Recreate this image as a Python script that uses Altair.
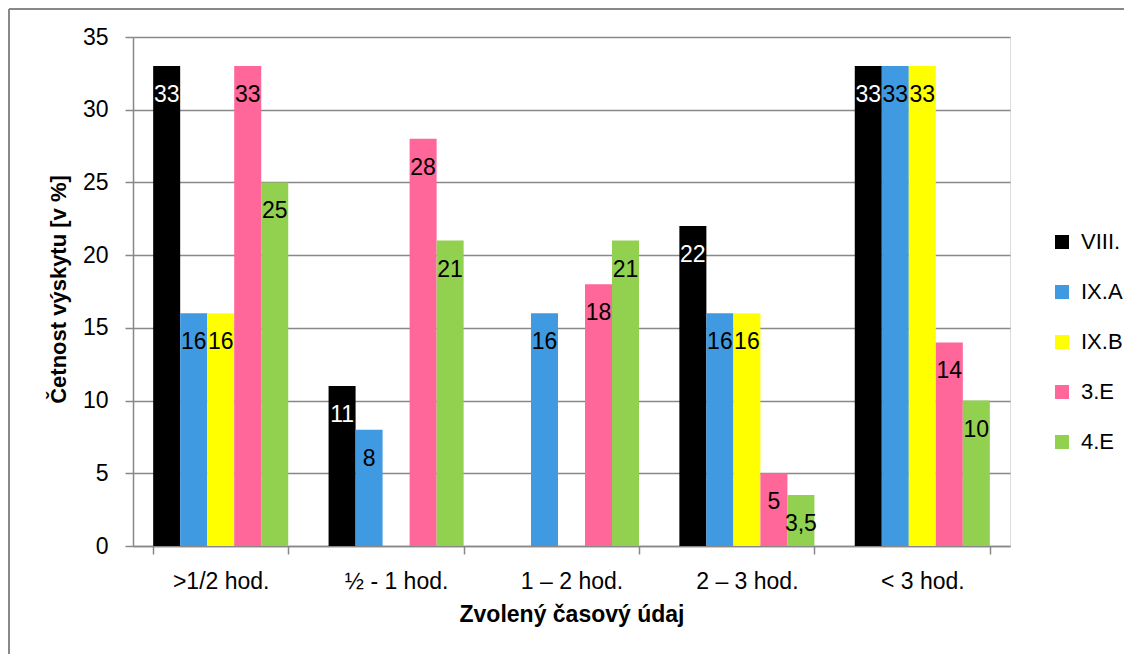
import altair as alt
import pandas as pd

categories = [">1/2 hod.", "½ - 1 hod.", "1 – 2 hod.", "2 – 3 hod.", "< 3 hod."]
series = ["VIII.", "IX.A", "IX.B", "3.E", "4.E"]
colors = ["#000000", "#409AE2", "#FFFF00", "#FF6699", "#92D050"]

viii = [33, 11, None, 22, 33]
ix_a = [16, 8, 16, 16, 33]
ix_b = [16, None, None, 16, 33]
e3 = [33, 28, 18, 5, 14]
e4 = [25, 21, 21, 3.5, 10]

y_ticks = [0, 5, 10, 15, 20, 25, 30, 35]

rows = []
for s, vals in zip(series, [viii, ix_a, ix_b, e3, e4]):
    for c, v in zip(categories, vals):
        if v is None:
            continue
        rows.append({"cat": c, "series": s, "value": v,
                     "label": f"{v:g}".replace(".", ",")})
df = pd.DataFrame(rows)

FONT = "Liberation Sans"
GRAY = "#888888"

x_enc = alt.X(
    "cat:N",
    sort=categories,
    scale=alt.Scale(domain=categories, paddingInner=0.23, paddingOuter=0.115),
    axis=alt.Axis(
        title="Zvolený časový údaj",
        labelAngle=0,
        tickBand="extent",
        tickSize=8,
        tickColor=GRAY,
        domainColor=GRAY,
        domainWidth=1.5,
        tickWidth=1.5,
        labelPadding=16,
        labelFontSize=23,
        labelColor="#000000",
        labelFont=FONT,
        titleFont=FONT,
        titleFontSize=23,
        titleFontWeight="bold",
        titleColor="#000000",
        titleY=57,
        titleBaseline="top",
        grid=False,
    ),
)
y_enc = alt.Y(
    "value:Q",
    scale=alt.Scale(domain=[0, 35], nice=False),
    axis=alt.Axis(
        title="Četnost výskytu [v %]",
        values=y_ticks,
        tickSize=8,
        tickColor=GRAY,
        domainColor=GRAY,
        domainWidth=1.5,
        tickWidth=1.5,
        gridColor=GRAY,
        gridWidth=1.5,
        labelPadding=17,
        labelFontSize=23,
        labelColor="#000000",
        labelFont=FONT,
        titleFont=FONT,
        titleFontSize=22,
        titleFontWeight="bold",
        titleColor="#000000",
        titleAngle=270,
        titleX=-75,
        titleY=252,
        titleAlign="center",
        titleBaseline="middle",
    ),
)
xoff = alt.XOffset("series:N", sort=series,
                   scale=alt.Scale(domain=series, paddingInner=0, paddingOuter=0))

bars = alt.Chart(df).mark_bar().encode(
    x=x_enc,
    y=y_enc,
    xOffset=xoff,
    color=alt.Color(
        "series:N",
        sort=series,
        scale=alt.Scale(domain=series, range=colors),
        legend=alt.Legend(
            orient="none",
            legendX=918,
            legendY=194,
            title=None,
            symbolType="square",
            symbolSize=196,
            symbolStrokeWidth=0,
            labelFontSize=22,
            labelFont=FONT,
            labelColor="#000000",
            labelOffset=8,
            rowPadding=28,
            padding=0,
        ),
    ),
)

labels = alt.Chart(df).mark_text(
    baseline="middle", align="center", dy=29, fontSize=23, font=FONT
).encode(
    x=alt.X("cat:N", sort=categories),
    y=alt.Y("value:Q"),
    xOffset=alt.XOffset("series:N", sort=series),
    text="label:N",
    color=alt.when(alt.datum.series == "VIII.").then(alt.value("#FFFFFF")).otherwise(alt.value("#000000")),
)

frame_data = alt.Data(values=[{"k": 1}])
top_line = alt.Chart(frame_data).mark_rule(color=GRAY, strokeWidth=2).encode(
    x=alt.value(-124), x2=alt.value(1000), y=alt.value(-28), y2=alt.value(-28)
)
left_line = alt.Chart(frame_data).mark_rule(color=GRAY, strokeWidth=2).encode(
    x=alt.value(-124), x2=alt.value(-124), y=alt.value(-28), y2=alt.value(640)
)

chart = alt.layer(bars, labels, top_line, left_line).properties(
    width=877,
    height=509,
    autosize=alt.AutoSizeParams(type="none"),
    padding={"left": 125, "top": 29, "right": 114, "bottom": 108},
).configure_view(stroke=None).configure(font=FONT)

chart.save("out.html", embed_options={"renderer": "svg", "actions": False})
